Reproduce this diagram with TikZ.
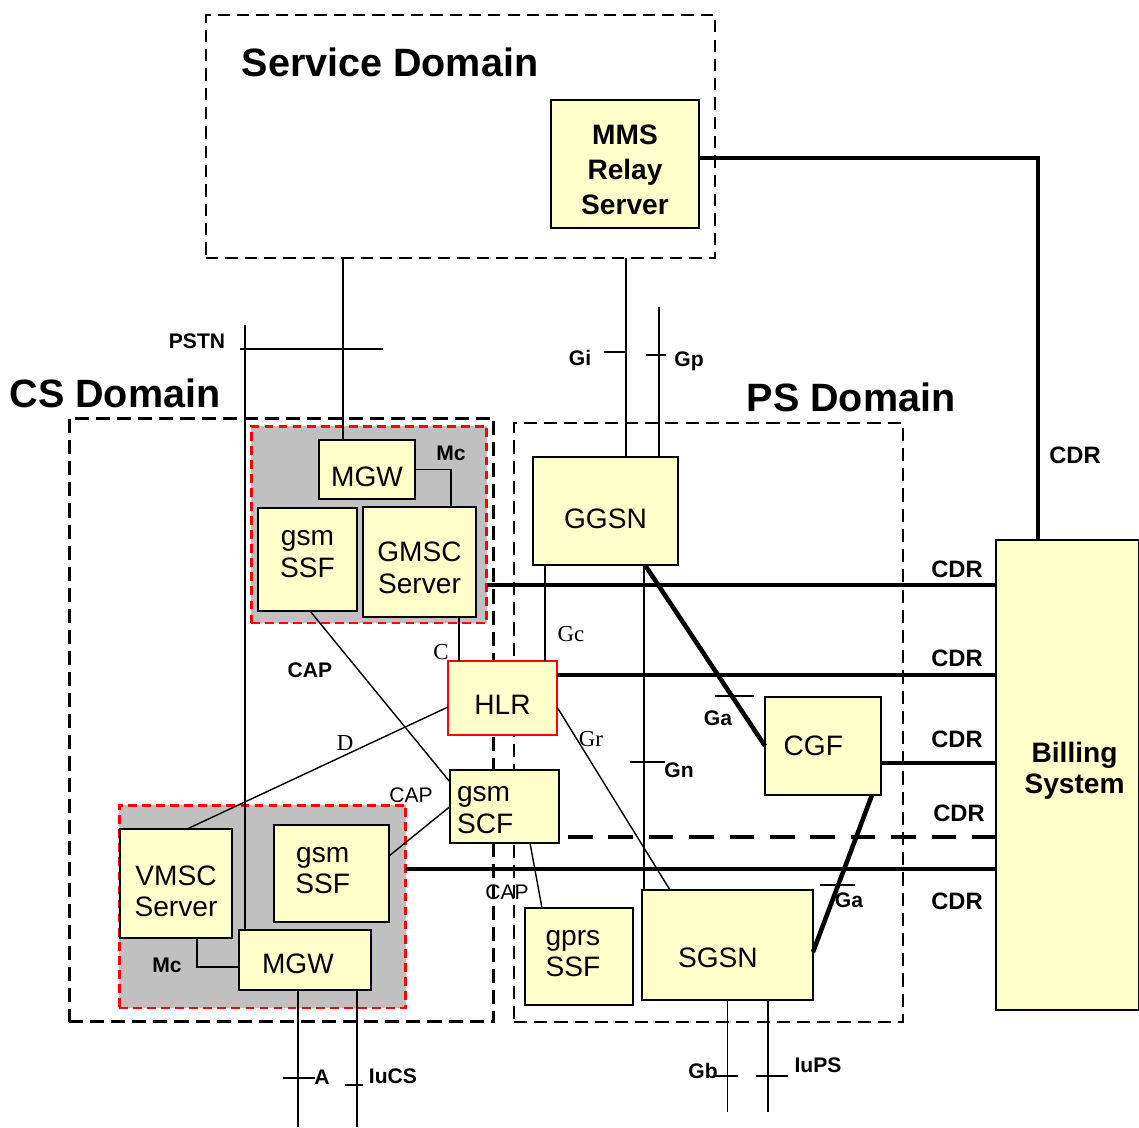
\documentclass[tikz,border=0pt]{standalone}
\usepackage{fontspec}
\setmainfont{Liberation Sans}
\newfontfamily\timesf{Liberation Serif}
\definecolor{nodeyellow}{HTML}{FFFFCC}
\definecolor{mscgray}{HTML}{C0C0C0}
% struts that move a node's text down (taller first line) or up (deeper last line)
\newcommand{\padtop}[1]{\rule{0pt}{#1}}
\newcommand{\padbottom}[1]{\rule[-#1]{0pt}{0pt}}

\begin{document}
\begin{tikzpicture}[x=0.02cm, y=-0.02cm,
        entity/.style={draw, line width=1pt, fill=nodeyellow, inner sep=2pt, outer sep=0pt,
                       align=center, font=\fontsize{16}{18}\selectfont},
        domainbox/.style={draw, line width=1.7pt, dash pattern=on 8pt off 4pt, inner sep=0pt, outer sep=0pt},
        mscgroup/.style={draw=red, fill=mscgray, line width=1.7pt, dash pattern=on 5pt off 3pt,
                         inner sep=0pt, outer sep=0pt},
        link/.style={line width=0.8pt},
        cdr/.style={line width=2.3pt},
        galink/.style={line width=2.6pt},
        tag/.style={font=\bfseries\fontsize{12}{14}\selectfont, inner sep=1pt},
        plaintag/.style={font=\fontsize{12}{14}\selectfont, inner sep=1pt},
        cdrtag/.style={font=\bfseries\fontsize{13.5}{15}\selectfont, inner sep=1pt},
        seriftag/.style={font=\timesf\fontsize{13}{15}\selectfont, inner sep=1pt},
        title/.style={font=\bfseries\fontsize{22.5}{26}\selectfont, inner sep=0pt}]
    \useasboundingbox (0,0) rectangle (1139,1127);

    % domains
    \node[domainbox, line width=1.3pt, dash pattern=on 7pt off 4pt, minimum width=10.18cm, minimum height=4.86cm] (serviceDom) at (460.5,136.5) {};
    \node[domainbox, minimum width=8.5cm, minimum height=12.08cm] (csDom) at (281.5,720) {};
    \node[domainbox, line width=1.5pt, dash pattern=on 7.5pt off 4pt, minimum width=7.78cm, minimum height=11.98cm] (psDom) at (708.5,722.5) {};
    \node[mscgroup, minimum width=4.72cm, minimum height=3.94cm] (gmscGroup) at (369,524.5) {};
    \node[mscgroup, minimum width=5.74cm, minimum height=4.06cm] (vmscGroup) at (262.5,906.5) {};
    \node[title] (serviceTitle) at (390,62) {Service Domain};
    \node[title] (csTitle) at (115,393) {CS Domain};
    \node[title] (psTitle) at (851,397) {PS Domain};

    % network elements
    \node[entity, font=\bfseries\fontsize{16}{20}\selectfont, minimum width=2.96cm, minimum height=2.56cm] (mms) at (625,164) {\padtop{18pt}MMS\\Relay\\Server};
    \node[entity, font=\bfseries\fontsize{16}{18}\selectfont, minimum width=2.86cm, minimum height=9.4cm] (billing) at (1067.5,775) {\hspace*{8pt}Billing\\\hspace*{8pt}System\padbottom{8pt}};
    \node[entity, minimum width=1.92cm, minimum height=1.18cm] (mgwTop) at (367,469.5) {\padtop{19.5pt}MGW};
    \node[entity, minimum width=1.98cm, minimum height=2.06cm] (ssfTop) at (307.5,559.5) {gsm\\SSF\padbottom{6.5pt}};
    \node[entity, minimum width=2.26cm, minimum height=2.2cm] (gmsc) at (419.5,562) {\padtop{18pt}GMSC\\Server};
    \node[entity, draw=red, minimum width=2.18cm, minimum height=1.48cm] (hlr) at (502.5,698) {\padtop{19pt}HLR};
    \node[entity, align=left, text width=1.9cm, inner xsep=0.14cm, minimum height=1.46cm] (scf) at (504.5,806.5) {\padtop{13pt}gsm\\SCF};
    \node[entity, minimum width=2.24cm, minimum height=2.18cm] (vmsc) at (176,883.5) {\padtop{20pt}VMSC\\Server};
    \node[entity, minimum width=2.3cm, minimum height=1.94cm] (ssfBot) at (331.5,873.5) {gsm\hspace*{10pt}\\SSF\hspace*{10pt}\padbottom{3.5pt}};
    \node[entity, minimum width=2.64cm, minimum height=1.2cm] (mgwBot) at (305,960) {\padtop{16pt}MGW\hspace*{8pt}};
    \node[entity, minimum width=2.9cm, minimum height=2.16cm] (ggsn) at (605.5,511) {\padtop{19.5pt}GGSN};
    \node[entity, minimum width=2.32cm, minimum height=1.96cm] (cgf) at (823,746) {CGF\hspace*{11pt}};
    \node[entity, minimum width=3.42cm, minimum height=2.2cm] (sgsn) at (727.5,945) {\padtop{26pt}SGSN\hspace*{11pt}};
    \node[entity, minimum width=2.16cm, minimum height=1.94cm] (gprs) at (579,956.5) {gprs\hspace*{7pt}\\SSF\hspace*{7pt}\padbottom{3.5pt}};

    % CS side
    \draw[link] ([xshift=-0.48cm]mgwTop.north) coordinate (sdTop) -- (sdTop |- serviceDom.south);
    \coordinate (pstnEnd) at (245,325);
    \draw[link] (pstnEnd) -- (pstnEnd |- mgwBot.north);
    \draw[link] (240,349) -- (383,349);
    \draw[link] (mgwTop.east) -| ([xshift=0.63cm]gmsc.north);
    \draw[link] ([xshift=0.79cm]gmsc.south) coordinate (cTop) -- (cTop |- hlr.north);
    \draw[link] ([yshift=-0.18cm]hlr.west) -- ([xshift=0.22cm]vmsc.north);
    \draw[link] ([xshift=0.05cm]ssfTop.south) -- ([yshift=0.49cm]scf.west);
    \draw[link] (scf.west) -- ([yshift=0.35cm]ssfBot.east);
    \draw[link] ([xshift=0.42cm]vmsc.south) |- ([yshift=-0.14cm]mgwBot.west);
    \draw[link] ([xshift=-0.14cm]mgwBot.south) -- ++(0,137);
    \draw[link] ([xshift=1.04cm]mgwBot.south) -- ++(0,137);
    \draw[link] (283,1078) -- (315,1078);
    \draw[link] (345,1085) -- (363,1085);

    % PS side
    \draw[link] ([xshift=0.41cm]ggsn.north) coordinate (giTop) -- (giTop |- serviceDom.south);
    \draw[link] ([xshift=1.07cm]ggsn.north) -- ++(0,-150);
    \draw[link] (604,352) -- (626,352);
    \draw[link] (646,355) -- (666,355);
    \draw[link] ([xshift=-1.21cm]ggsn.south) coordinate (gcTop) -- (gcTop |- hlr.north);
    \draw[link, line width=1.3pt] ([xshift=0.77cm]ggsn.south) coordinate (gnTop) -- (gnTop |- sgsn.north);
    \draw[link] (630,762) -- (665,762);
    \draw[galink] ([xshift=0.79cm]ggsn.south) -- (cgf.west);
    \draw[link] (715,696) -- (754,696);
    \draw[galink] ([xshift=0.98cm]cgf.south) -- ([yshift=-0.14cm]sgsn.east);
    \draw[link] (820,885) -- (855,885);
    \draw[link] ([yshift=-0.18cm]hlr.east) -- ([xshift=-1.15cm]sgsn.north);
    \draw[link] ([xshift=0.51cm]scf.south) -- ([xshift=-0.74cm]gprs.north);
    \draw[link] (sgsn.south) -- ++(0,112);
    \draw[link] ([xshift=0.81cm]sgsn.south) -- ++(0,112);
    \draw[link] (716,1076) -- (738,1076);
    \draw[link] (756,1076) -- (788,1076);

    % charging records
    \draw[cdr] ([yshift=0.12cm]mms.east) -| ([xshift=-0.59cm]billing.north);
    \draw[cdr] ([yshift=-1.21cm]gmscGroup.east) coordinate (cdrA) -- (cdrA -| billing.west);
    \draw[cdr] ([yshift=0.46cm]hlr.east) coordinate (cdrB) -- (cdrB -| billing.west);
    \draw[cdr] ([yshift=-0.34cm]cgf.east) coordinate (cdrC) -- (cdrC -| billing.west);
    \draw[cdr, dash pattern=on 14pt off 9pt] ([xshift=0.18cm, yshift=-0.61cm]scf.east) coordinate (cdrD) -- (cdrD -| billing.west);
    \draw[cdr] ([yshift=0.75cm]vmscGroup.east) coordinate (cdrE) -- (cdrE -| billing.west);

    % labels
    \node[tag] (pstnTag) at (197,341) {PSTN};
    \node[tag] (mcTop) at (451,453) {Mc};
    \node[tag] (mcBot) at (167,965) {Mc};
    \node[tag] (capTop) at (310,670) {CAP};
    \node[plaintag] (capMid) at (411,795) {CAP};
    \node[plaintag] (capLow) at (507,892) {CAP};
    \node[seriftag] (cTag) at (441,652) {C};
    \node[seriftag] (dTag) at (345,743) {D};
    \node[seriftag] (gcTag) at (571,634) {Gc};
    \node[seriftag] (grTag) at (591,739) {Gr};
    \node[tag] (giTag) at (580,358) {Gi};
    \node[tag] (gpTag) at (689,361) {Gp};
    \node[tag] (gaTop) at (718,718) {Ga};
    \node[tag] (gnTag) at (679,770) {Gn};
    \node[tag] (gaBot) at (849,900) {Ga};
    \node[tag] (aTag) at (322,1077) {A};
    \node[tag] (iucsTag) at (393,1076) {IuCS};
    \node[tag] (gbTag) at (703,1071) {Gb};
    \node[tag] (iupsTag) at (818,1065) {IuPS};
    \node[cdrtag] (cdrMms) at (1075,455) {CDR};
    \node[cdrtag] (cdrGmsc) at (957,569) {CDR};
    \node[cdrtag] (cdrHlr) at (957,658) {CDR};
    \node[cdrtag] (cdrCgf) at (957,739) {CDR};
    \node[cdrtag] (cdrScf) at (959,813) {CDR};
    \node[cdrtag] (cdrVmsc) at (957,901) {CDR};
\end{tikzpicture}
\end{document}
